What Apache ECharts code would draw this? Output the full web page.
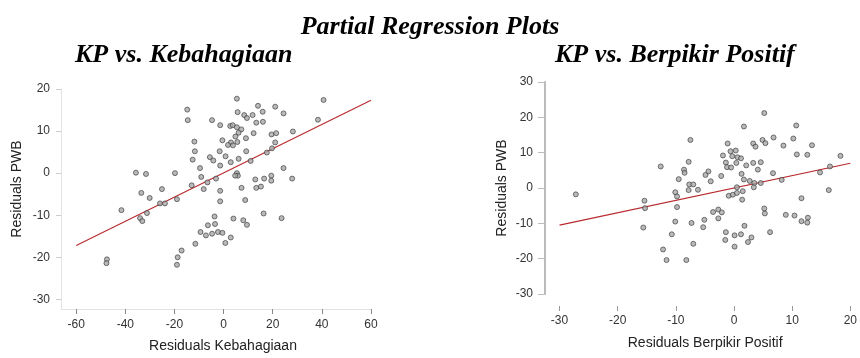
<!DOCTYPE html>
<html>
<head>
    <meta charset="utf-8">
    <title>Partial Regression Plots</title>
    <script src="https://cdn.jsdelivr.net/npm/echarts@6/dist/echarts.min.js"></script>
</head>
<body style="margin:0;background:#fff;">
    <div id="main" style="width:860px;height:358px;"></div>
    <script type="text/javascript">
        // KP vs. Kebahagiaan - residuals
        var kebX = [5.4, 40.7, 14.0, 21.0, -14.8, 15.9, 5.7, 24.4, 8.4, 11.8,
            9.5, -14.6, -4.7, 38.4, 13.3, 16.0, -1.4, 2.7, 3.7, 5.4,
            7.2, 6.1, 12.2, 19.5, 21.4, 28.2, 4.8, 9.1, -0.5, -11.9,
            3.0, 5.6, 1.8, 3.8, 21.0, -11.7, 19.7, 17.6, -1.6, 9.2,
            -5.6, -4.2, 0.8, -12.6, 2.9, 6.1, 11.0, -1.4, -9.6, 24.4,
            -35.7, -31.6, -19.8, 5.4, 5.8, 4.7, -9.1, -3.1, 12.9, 16.5,
            19.4, 19.4, 27.9, -6.6, -13.0, -25.1, -8.1, -1.4, 7.3, 13.3,
            15.2, -33.5, -30.1, -19.0, -25.9, -23.9, -1.4, 8.8, -41.6, -31.2,
            -34.0, -33.1, 16.3, 23.6, -3.7, 4.0, 8.0, 9.5, -6.4, -3.5,
            -9.4, -7.2, -4.7, -2.3, -0.5, 2.9, 0.7, -11.5, -17.1, -18.7,
            -19.0, -47.5, -47.7];
        var kebY = [17.7, 17.4, 16.0, 15.8, 15.1, 14.6, 14.5, 14.2, 13.8, 13.8,
            13.1, 12.6, 12.6, 12.7, 12.0, 12.2, 11.4, 11.2, 11.4, 10.9,
            10.4, 9.6, 9.5, 9.2, 9.5, 9.9, 8.7, 8.3, 7.8, 7.5,
            7.3, 7.4, 6.7, 6.6, 7.3, 5.2, 5.9, 4.9, 5.2, 5.2,
            3.8, 3.0, 4.0, 3.2, 2.6, 3.4, 2.9, 1.8, 1.2, 1.2,
            0.1, -0.2, 0.0, 0.0, -0.6, -0.6, -0.9, -1.3, -1.5, -1.3,
            -0.6, -1.8, -1.3, -2.2, -2.9, -3.8, -3.8, -4.2, -3.5, -3.5,
            -3.2, -4.7, -5.9, -6.2, -7.2, -7.2, -6.7, -6.4, -8.8, -9.5,
            -10.7, -11.4, -9.6, -10.7, -10.3, -10.8, -11.2, -12.3, -12.4, -12.1,
            -14.0, -14.8, -14.4, -14.0, -14.2, -15.3, -16.6, -16.8, -18.4, -20.0,
            -21.8, -20.5, -21.4];
        var kebLineX = [-60, 60];
        var kebLineY = [-17.2, 17.3];
        var kebXTicks = [-60, -40, -20, 0, 20, 40, 60];
        var kebYTicks = [-30, -20, -10, 0, 10, 20];

        // KP vs. Berpikir Positif - residuals
        var berX = [-7.5, -7.8, -12.6, -8.6, -8.5, -9.5, -7.7, -7.0, -7.8, -10.1,
            -9.8, -27.2, -15.4, -15.3, -9.8, -10.1, -7.3, -15.6, -10.7, -7.0,
            -12.2, -11.6, -8.2,
            5.2, 1.7, 10.7, 6.8, 10.2, -1.1, 3.3, 3.7, 4.9, 5.4,
            8.5, 13.4, -0.6, 0.3, -1.9, -0.3, 0.6, 1.2, 10.8, 12.6,
            18.3, -1.4, 0.4, 2.1, 3.3, 4.6, -1.2, -0.5, 4.1, -4.4,
            -4.9, 1.3, 6.7, 14.8, 16.5, -2.2, -4.0, 1.7, 2.7, 3.5,
            4.6, 8.2, -6.2, 0.5, 1.5, 3.4, -0.9, -0.2, 0.5, 1.4,
            16.3, 11.6, -3.6, -2.7, -2.1, -2.7, -5.1, -5.3, 5.2, 5.3,
            8.9, 10.4, 12.7, 11.6, 12.6, 1.8, -1.4, -1.5, 0.1, 1.2,
            3.0, 2.4, 0.1, 6.2];
        var berY = [13.6, 7.4, 6.1, 5.2, 4.3, 2.5, 1.0, 1.0, -0.6, -1.2,
            -2.4, -1.8, -3.6, -5.7, -5.4, -9.5, -9.9, -11.2, -13.1, -15.8,
            -17.4, -20.4, -20.4,
            21.2, 17.4, 17.7, 14.3, 14.0, 12.6, 12.6, 11.7, 13.6, 12.7,
            12.0, 12.1, 10.4, 10.6, 9.2, 9.0, 8.7, 8.4, 9.5, 9.4,
            9.1, 7.2, 7.1, 6.4, 7.1, 7.3, 5.9, 5.8, 5.2, 4.7,
            3.7, 4.0, 4.2, 4.4, 6.1, 3.4, 1.9, 2.4, 2.0, 1.4,
            1.4, 2.3, -0.5, 0.2, -0.9, 0.2, -2.2, -1.9, -1.4, -3.3,
            -0.6, -2.9, -6.8, -6.1, -6.9, -8.6, -9.0, -11.1, -5.8, -7.2,
            -7.6, -7.8, -8.4, -9.4, -9.8, -10.7, -12.5, -14.7, -13.4, -13.1,
            -14.0, -15.3, -16.6, -12.5];
        var berLineX = [-30, 20];
        var berLineY = [-10.5, 7.0];
        var berXTicks = [-30, -20, -10, 0, 10, 20];

        function pairs(xs, ys) {
            return xs.map(function (x, i) { return [x, ys[i]]; });
        }

        var serif = 'Liberation Serif';
        var sans = 'Liberation Sans';
        var titleStyle = { fontFamily: serif, fontSize: 26, fontWeight: 'bold', fontStyle: 'italic', color: '#000' };
        var tickLabel = { fontFamily: sans, fontSize: 12, color: '#333' };
        var nameStyle = { fontFamily: sans, fontSize: 14, color: '#222' };
        var dot = { color: '#a8a8a8', borderColor: '#333', borderWidth: 0.8 };

        var myChart = echarts.init(document.getElementById('main'));
        myChart.setOption({
            animation: false,
            title: [
                { text: 'Partial Regression Plots', left: 'center', top: 9, textStyle: titleStyle },
                { text: 'KP vs. Kebahagiaan', left: 70, top: 37, textStyle: titleStyle },
                { text: 'KP vs. Berpikir Positif', left: 550, top: 37, textStyle: titleStyle }
            ],
            grid: [
                { left: 61, top: 89, width: 310, height: 223 },
                { left: 545, top: 82, width: 308, height: 212 }
            ],
            xAxis: [
                {
                    gridIndex: 0, type: 'value', min: -66.2, max: 60,
                    splitLine: { show: false },
                    axisLine: { onZero: false, lineStyle: { color: '#e3e3e3' } },
                    axisTick: { length: 5, lineStyle: { color: '#888' }, customValues: kebXTicks },
                    axisLabel: Object.assign({ margin: 10, customValues: kebXTicks }, tickLabel),
                    name: 'Residuals Kebahagiaan', nameLocation: 'middle', nameGap: 30,
                    nameTextStyle: Object.assign({ padding: [0, 0, 0, 14] }, nameStyle)
                },
                {
                    gridIndex: 1, type: 'value', min: -32.5, max: 20, offset: 12,
                    splitLine: { show: false },
                    axisLine: { show: false, onZero: false },
                    axisTick: { show: true, length: 5, lineStyle: { color: '#999' }, customValues: berXTicks },
                    axisLabel: Object.assign({ margin: 9, customValues: berXTicks }, tickLabel),
                    name: 'Residuals Berpikir Positif', nameLocation: 'middle', nameGap: 30,
                    nameTextStyle: Object.assign({ padding: [0, 0, 0, 15] }, nameStyle)
                }
            ],
            yAxis: [
                {
                    gridIndex: 0, type: 'value', min: -32.3, max: 20,
                    splitLine: { show: false },
                    axisLine: { show: true, onZero: false, lineStyle: { color: '#e3e3e3' } },
                    axisTick: { show: true, length: 5, lineStyle: { color: '#ccc' }, customValues: kebYTicks },
                    axisLabel: Object.assign({ margin: 11, customValues: kebYTicks }, tickLabel),
                    name: 'Residuals PWB', nameLocation: 'middle', nameGap: 37,
                    nameTextStyle: Object.assign({ padding: [0, 0, 0, 20] }, nameStyle)
                },
                {
                    gridIndex: 1, type: 'value', min: -30, max: 30, interval: 10,
                    splitLine: { show: false },
                    axisLine: { show: true, onZero: false, lineStyle: { color: '#bbb', width: 2 } },
                    axisTick: { show: true, length: 7, lineStyle: { color: '#bbb' } },
                    axisLabel: Object.assign({ margin: 12 }, tickLabel),
                    name: 'Residuals PWB', nameLocation: 'middle', nameGap: 36,
                    nameTextStyle: nameStyle
                }
            ],
            series: [
                {
                    type: 'line', xAxisIndex: 0, yAxisIndex: 0, data: pairs(kebLineX, kebLineY),
                    symbol: 'none', silent: true, lineStyle: { color: '#b8282c', width: 1.1 }, z: 1
                },
                {
                    type: 'scatter', xAxisIndex: 0, yAxisIndex: 0, data: pairs(kebX, kebY),
                    symbolSize: 5, itemStyle: dot, z: 2
                },
                {
                    type: 'line', xAxisIndex: 1, yAxisIndex: 1, data: pairs(berLineX, berLineY),
                    symbol: 'none', silent: true, lineStyle: { color: '#b8282c', width: 1.1 }, z: 1
                },
                {
                    type: 'scatter', xAxisIndex: 1, yAxisIndex: 1, data: pairs(berX, berY),
                    symbolSize: 5, itemStyle: dot, z: 2
                }
            ]
        });
    </script>
</body>
</html>
